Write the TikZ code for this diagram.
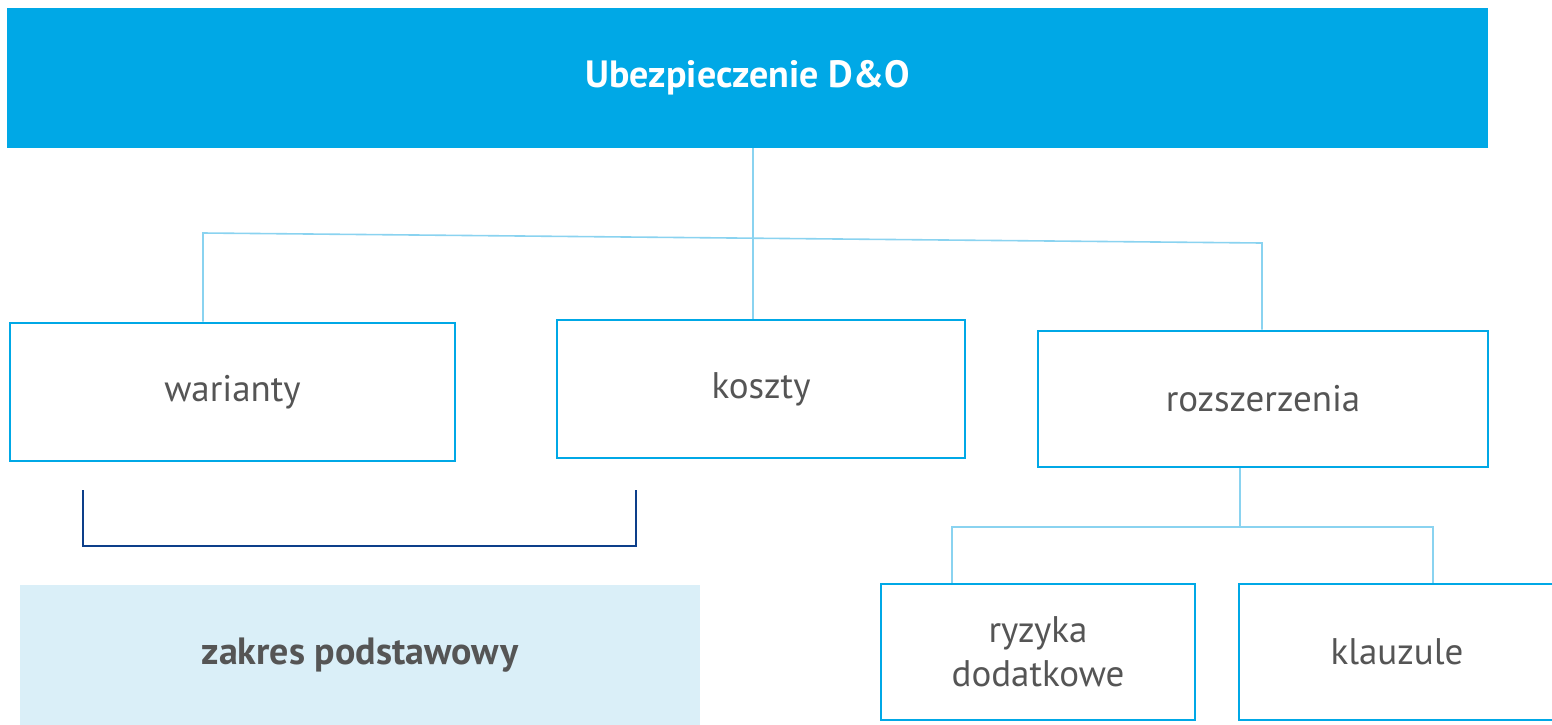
\documentclass[tikz,border=0pt]{standalone}
\usepackage{fontspec}
\setmainfont{PT Sans}
\definecolor{dobar}{HTML}{00A8E6}
\definecolor{doline}{HTML}{8AD3F0}
\definecolor{donavy}{HTML}{0D3F8A}
\definecolor{dofill}{HTML}{DAEFF8}
\definecolor{dotext}{HTML}{555555}
\tikzset{
  optbox/.style={draw=dobar, line width=1.3pt, fill=white, text=dotext,
    font=\fontsize{18.5}{22}\selectfont, align=center, inner sep=0pt},
  link/.style={doline, line width=0.8pt},
}
\begin{document}
\begin{tikzpicture}[x=0.5pt, y=-0.5pt]
\useasboundingbox (0,0) rectangle (1552,724);
\begin{scope}
\clip (0,0) rectangle (1552,724);
% top bar
\node (do) [fill=dobar, minimum width=740.5pt, minimum height=70pt, inner sep=0pt,
  text=white, font=\bfseries\fontsize{19}{22}\selectfont] at (747.5,78) {Ubezpieczenie D\&O};
% first level
\node (war) [optbox, minimum width=222.5pt, minimum height=69pt] at (232.5,392) {warianty};
\node (kos) [optbox, minimum width=204pt, minimum height=69pt] at (761,389) {koszty};
\node (roz) [optbox, minimum width=225pt, minimum height=68pt] at (1263,399) {rozszerzenia};
% second level
\node (ryz) [optbox, minimum width=157pt, minimum height=68pt] at (1038,652) {ryzyka\\dodatkowe};
\node (kla) [optbox, minimum width=158pt, minimum height=68pt] at (1397,652) {klauzule};
% basic scope
\node (zak) [fill=dofill, minimum width=340pt, minimum height=70pt, inner sep=0pt,
  text=dotext, font=\bfseries\fontsize{19}{22}\selectfont] at (360,655) {zakres podstawowy};
\coordinate (dk) at (753,148);
\coordinate (wl) at (203,233);
\coordinate (wr) at (1262,243);
\coordinate (rk) at (1240,527);
\coordinate (rl) at (952,527);
\coordinate (rr) at (1433,527);
\coordinate (bl) at (83,490);
\coordinate (br) at (636,490);
% connectors
\draw [link] (dk) -- (kos.north -| dk);
\draw [link] (war.north -| wl) -- (wl) -- (wr) -- (roz.north -| wr);
\draw [link] (roz.south -| rk) -- (rk);
\draw [link] (ryz.north -| rl) -- (rl) -- (rr) -- (kla.north -| rr);
\draw [donavy, line width=1pt] (bl) -- (bl |- 0,546) -- (br |- 0,546) -- (br);
\end{scope}
\end{tikzpicture}
\end{document}
